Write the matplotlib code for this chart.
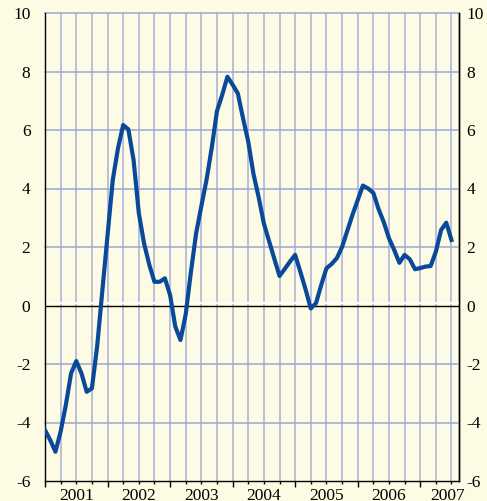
import numpy as np
import matplotlib.pyplot as plt
from matplotlib.ticker import MultipleLocator

# monthly values, Jan 2001 .. Jul 2007
values = [
    -4.26, -4.6, -5.0, -4.31, -3.4, -2.32, -1.90, -2.32, -2.95, -2.83, -1.41, 0.5,
    2.4, 4.29, 5.37, 6.17, 6.02, 4.97, 3.16, 2.13, 1.4, 0.81, 0.81, 0.93,
    0.36, -0.72, -1.18, -0.30, 1.15, 2.47, 3.4, 4.3, 5.4, 6.65, 7.2, 7.82,
    7.55, 7.25, 6.4, 5.6, 4.5, 3.7, 2.8, 2.2, 1.6, 1.01, 1.25, 1.5,
    1.73, 1.15, 0.55, -0.10, 0.08, 0.70, 1.27, 1.42, 1.62, 2.0, 2.55, 3.1,
    3.6, 4.1, 4.0, 3.85, 3.3, 2.85, 2.3, 1.9, 1.46, 1.73, 1.58, 1.24,
    1.28, 1.33, 1.35, 1.84, 2.58, 2.83, 2.24,
]
start_year = 2001
years = [2001, 2002, 2003, 2004, 2005, 2006, 2007]
y_ticks = [-6, -4, -2, 0, 2, 4, 6, 8, 10]

x = start_year + np.arange(len(values)) / 12.0
x_max = 2007.62

bg = '#FDFBE3'
grid_col = '#A8B0DA'

plt.rcParams['font.family'] = ['Liberation Serif', 'DejaVu Serif']
fig = plt.figure(figsize=(4.87, 5.01), dpi=100, facecolor=bg)
ax = fig.add_axes([45 / 487, 20 / 501, 414 / 487, 468 / 501])
ax.set_facecolor(bg)

ax.set_xlim(start_year, x_max)
ax.set_ylim(-6, 10)

# quarter grid lines
for q in np.arange(start_year + 0.25, x_max, 0.25):
    ax.axvline(q, color=grid_col, lw=1.1, zorder=1)
for yv in y_ticks[1:]:
    if yv != 0:
        ax.axhline(yv, color='#9CA5D8', lw=1.1, zorder=1, clip_on=False)

# zero line with white highlight
ax.axhline(0.075, color='white', lw=1.6, zorder=2)
ax.axhline(0, color='black', lw=1.0, zorder=2)

ax.plot(x, values, color='#08499A', lw=3.0, zorder=3)

for s in ['left', 'right', 'bottom']:
    ax.spines[s].set_color('black')
    ax.spines[s].set_linewidth(1.0)
ax.spines['top'].set_visible(False)

ax.set_yticks(y_ticks)
ax.set_yticklabels([str(v) for v in y_ticks])
ax.tick_params(axis='y', length=0, labelsize=12.5, pad=10.5)

sec = ax.secondary_yaxis('right')
sec.set_yticks(y_ticks)
sec.set_yticklabels([str(v) for v in y_ticks])
sec.tick_params(axis='y', length=0, labelsize=12.5, pad=5.5)
sec.spines['right'].set_linewidth(1.0)

ax.set_xticks(years)
ax.set_xticklabels([])
ax.xaxis.set_minor_locator(MultipleLocator(0.25))
ax.tick_params(axis='x', which='major', length=4.5, width=1.0, direction='out')
ax.tick_params(axis='x', which='minor', length=2.5, width=1.0, direction='out')

for yr in years:
    cx = min(yr + 0.5, x_max - 0.18)
    ax.annotate(str(yr), xy=(cx, 0), xycoords=('data', 'axes fraction'),
                xytext=(0, -5.0), textcoords='offset points',
                ha='center', va='top', fontsize=12.5)

fig.savefig('out.png', dpi=100, facecolor=bg)
